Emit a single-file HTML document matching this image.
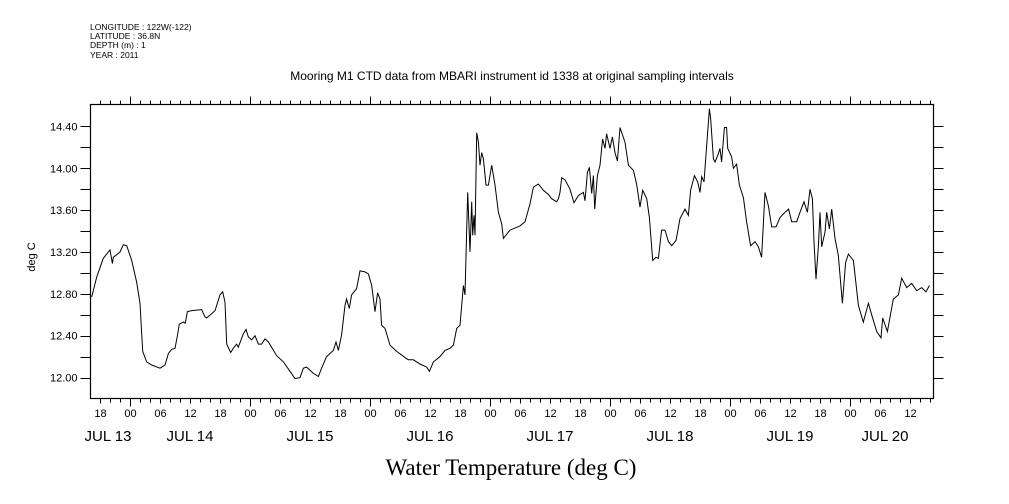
<!DOCTYPE html>
<html><head><meta charset="utf-8"><style>
body{margin:0;background:#fff;}
svg{display:block;font-family:"Liberation Sans",sans-serif;}
</style></head><body>
<svg id="chart" width="1009" height="504" viewBox="0 0 1009 504">
<g font-size="8.5" fill="#000">
<text x="90" y="30">LONGITUDE : 122W(-122)</text>
<text x="90" y="39">LATITUDE : 36.8N</text>
<text x="90" y="48">DEPTH (m) : 1</text>
<text x="90" y="58">YEAR : 2011</text>
</g>
<text x="512" y="80" text-anchor="middle" font-size="12">Mooring M1 CTD data from MBARI instrument id 1338 at original sampling intervals</text>
<text x="511" y="475" text-anchor="middle" font-size="23" font-family="Liberation Serif,serif">Water Temperature (deg C)</text>
<text transform="translate(35,257) rotate(-90)" text-anchor="middle" font-size="11">deg C</text>
<rect x="90.5" y="104.5" width="843" height="294" fill="none" stroke="#000" stroke-width="1.2"/>
<g id="axes"></g>
<path id="line" fill="none" stroke="#000" stroke-width="1"/>
</svg>
<script>
// hours since JUL 14 00:00 2011
const times=[-7.67,-6.67,-5.33,-4.0,-3.53,-3.33,-2.0,-1.33,-0.67,0.33,1.33,2.0,2.53,3.33,4.33,6.0,7.0,7.67,8.33,9.0,9.47,9.87,10.67,11.07,11.47,12.33,14.33,15.0,15.33,16.33,17.0,18.0,18.53,19.0,19.33,20.13,20.67,21.33,21.67,22.67,23.2,23.67,24.33,25.0,25.67,26.33,27.0,27.67,29.33,30.67,32.0,33.0,34.0,34.67,35.33,36.67,37.67,38.33,39.33,40.67,41.2,41.67,42.33,43.0,43.33,43.87,44.33,45.33,46.0,47.0,47.67,48.33,49.0,49.53,50.0,50.33,51.0,52.0,53.33,55.33,55.67,56.67,58.0,59.33,59.87,60.67,62.0,63.0,64.0,64.67,65.33,66.0,66.67,67.0,67.33,67.53,68.0,68.33,68.53,68.8,69.0,69.33,69.67,70.0,70.33,70.67,71.2,71.67,72.33,73.0,73.67,74.33,74.67,76.0,78.0,79.0,80.0,80.67,81.67,82.67,83.67,84.33,85.33,85.67,86.0,86.33,87.0,88.0,88.8,89.67,90.67,91.0,91.47,91.87,92.33,92.67,92.93,93.47,94.0,94.53,95.0,95.33,96.0,96.47,97.0,97.47,98.0,99.0,99.67,100.67,101.33,102.0,102.53,103.33,103.87,104.53,105.2,105.67,106.33,107.0,107.67,108.33,109.2,110.0,111.0,111.67,112.13,112.87,113.53,114.0,114.33,114.8,115.33,115.87,116.13,116.67,117.0,117.67,118.0,118.33,118.87,119.33,119.53,120.33,120.67,121.33,121.87,122.67,123.33,124.13,125.0,125.67,126.33,127.0,127.67,128.33,129.2,130.0,131.0,131.73,132.33,133.33,134.0,134.8,135.47,136.0,136.47,136.8,137.2,137.67,138.0,138.33,139.0,139.33,139.87,140.33,141.0,141.67,142.47,143.13,143.67,144.67,145.67,146.67,147.67,148.33,149.33,150.2,150.53,151.47,152.67,153.67,154.33,155.33,156.33,157.33,158.33,159.2,159.87];
const temps=[12.77,12.96,13.14,13.22,13.09,13.15,13.20,13.27,13.26,13.12,12.91,12.71,12.25,12.15,12.12,12.09,12.12,12.23,12.27,12.28,12.40,12.51,12.53,12.52,12.63,12.64,12.65,12.58,12.57,12.61,12.64,12.79,12.82,12.72,12.32,12.24,12.28,12.32,12.29,12.42,12.46,12.39,12.36,12.40,12.32,12.32,12.37,12.34,12.21,12.15,12.06,11.99,12.00,12.09,12.10,12.04,12.01,12.09,12.20,12.26,12.34,12.26,12.41,12.69,12.75,12.66,12.79,12.85,13.02,13.01,12.99,12.88,12.63,12.81,12.75,12.50,12.47,12.31,12.25,12.18,12.17,12.17,12.13,12.10,12.06,12.15,12.20,12.26,12.28,12.31,12.47,12.50,12.88,12.79,13.42,13.77,13.20,13.68,13.36,13.55,13.36,14.34,14.25,14.03,14.15,14.09,13.84,13.84,14.03,13.84,13.58,13.47,13.33,13.41,13.45,13.49,13.66,13.82,13.85,13.79,13.75,13.71,13.68,13.71,13.77,13.91,13.89,13.80,13.67,13.74,13.77,13.69,13.96,14.01,13.76,13.93,13.61,13.93,14.03,14.28,14.19,14.33,14.19,14.30,14.15,14.07,14.39,14.25,14.03,13.98,13.85,13.63,13.79,13.71,13.53,13.12,13.15,13.14,13.41,13.41,13.30,13.26,13.31,13.52,13.61,13.55,13.79,13.93,13.87,13.77,13.92,13.87,14.22,14.57,14.47,14.09,14.06,14.14,14.19,14.06,14.39,14.39,14.19,14.11,14.00,14.04,13.84,13.72,13.49,13.26,13.30,13.25,13.15,13.77,13.64,13.44,13.44,13.53,13.58,13.61,13.49,13.49,13.58,13.68,13.58,13.80,13.71,13.30,12.94,13.26,13.58,13.25,13.39,13.58,13.42,13.61,13.33,13.17,12.71,13.10,13.18,13.12,12.69,12.53,12.71,12.60,12.44,12.38,12.57,12.44,12.75,12.79,12.95,12.86,12.90,12.83,12.86,12.82,12.88];
const yTickLabels=["12.00","12.40","12.80","13.20","13.60","14.00","14.40"];
const dayLabels=["JUL 13","JUL 14","JUL 15","JUL 16","JUL 17","JUL 18","JUL 19","JUL 20"];
const T0=-7.9,T1=160.7,V0=11.8,V1=14.61;
const L=90.5,R=933.5,TOP=104.5,BOT=398.5;
function xs(t){return L+(t-T0)/(T1-T0)*(R-L);}
function ys(v){return BOT-(v-V0)/(V1-V0)*(BOT-TOP);}
const NS="http://www.w3.org/2000/svg";
const ax=document.getElementById('axes');
function line(x1,y1,x2,y2,name){const e=document.createElementNS(NS,'line');e.setAttribute('x1',x1);e.setAttribute('y1',y1);e.setAttribute('x2',x2);e.setAttribute('y2',y2);e.setAttribute('stroke','#000');e.setAttribute('stroke-width','1');


ax.appendChild(e);}
function text(x,y,s,anchor,size,name){const e=document.createElementNS(NS,'text');e.setAttribute('x',x);e.setAttribute('y',y);e.setAttribute('text-anchor',anchor);e.setAttribute('font-size',size);e.textContent=s;


ax.appendChild(e);}
for(let k=0;k<=12;k++){const v=12+k*0.2;const y=Math.round(ys(v))+0.5;
line(L-10,y,L,y,'y-tick-left');line(R,y,R+10,y,'y-tick-right');}
yTickLabels.forEach(s=>{const y=ys(parseFloat(s));text(L-13,y+4,s,'end',11,'y-tick-label');});
for(let h=-6;h<=160;h+=2){const x=Math.round(xs(h))+0.5;const hr=((h%24)+24)%24;
const major=hr===0;const six=hr%6===0;
line(x,TOP-(major?8:4),x,TOP,'x-tick-top');
line(x,BOT,x,BOT+(major?8:(six?5:4)),'x-tick-bottom');
if(six){text(x,417,String(hr).padStart(2,'0'),'middle',11,'x-hour-label');}}
dayLabels.forEach((s,i)=>{let x=xs(-12+24*i);x=Math.max(108,Math.min(885,x));text(x,441,s,'middle',15,'x-day-label');});
let d='';times.forEach((t,i)=>{d+=(i?'L':'M')+xs(t).toFixed(1)+','+ys(temps[i]).toFixed(1);});
document.getElementById('line').setAttribute('d',d);
</script>
</body></html>
